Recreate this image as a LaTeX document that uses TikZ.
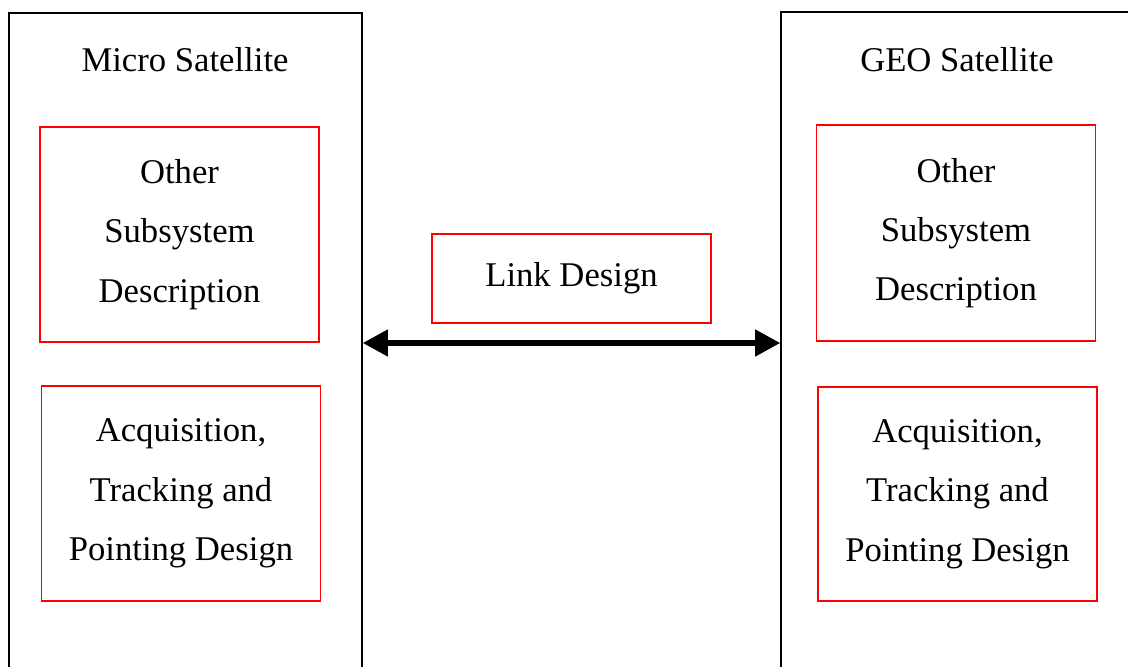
\documentclass[tikz,border=0pt]{standalone}
\usepackage{fontspec}
\setmainfont{Liberation Serif}
\usetikzlibrary{arrows.meta,positioning}
\tikzstyle{sat} = [draw, line width=0.8pt, inner sep=0pt]
\tikzstyle{part} = [draw=red, line width=1.1pt, minimum width=209.25pt, align=center, inner sep=0pt]
\tikzstyle{link} = [line width=5pt, {Triangle[length=19pt,width=19pt]}-{Triangle[length=19pt,width=19pt]}]

\begin{document}
\begin{tikzpicture}[x=0.75pt,y=-0.75pt,font=\fontsize{26}{44.5}\selectfont]
\useasboundingbox (0,0) rectangle (1128,667);
\clip (0,0) rectangle (1128,667);

% satellites
\node[sat, minimum width=264.75pt, minimum height=495pt] (micro) at (185.5,343) {};
\node[sat, minimum width=269.25pt, minimum height=496.5pt] (geo) at (960.5,343) {};
\node[anchor=base] (microname) at (185,72) {Micro Satellite};
\node[anchor=base] (geoname) at (957,72) {GEO Satellite};

\node[part, minimum height=161.25pt] (micro-other) at (179.5,234.5) {Other\\Subsystem\\Description};
\node[part, minimum height=161.25pt] (micro-atp) at (181,493.5) {Acquisition,\\Tracking and\\Pointing Design};
\node[part, minimum height=162pt] (geo-other) at (956,233) {Other\\Subsystem\\Description};
\node[part, minimum height=160.5pt] (geo-atp) at (957.5,494) {Acquisition,\\Tracking and\\Pointing Design};

\node[part, minimum height=66.75pt] (linkdesign) at (571.5,278.5) {Link Design};
\draw[link] (micro.east) -- (geo.west);
\end{tikzpicture}
\end{document}
